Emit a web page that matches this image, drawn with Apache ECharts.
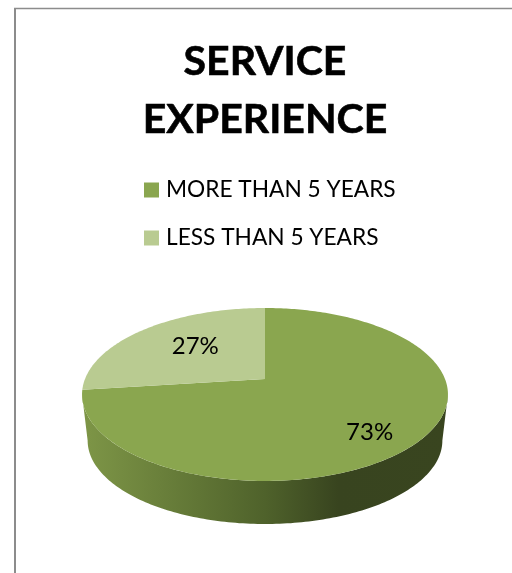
<!DOCTYPE html>
<html>
<head>
<meta charset="utf-8">
<style>html,body{margin:0;padding:0;background:#fff}#chart{width:512px;height:573px}</style>
<script src="https://cdn.jsdelivr.net/npm/echarts@6/dist/echarts.min.js"></script>
</head>
<body>
<div id="chart"></div>
<script>
const titleLines = ['SERVICE', 'EXPERIENCE'];
const categories = ['MORE THAN 5 YEARS', 'LESS THAN 5 YEARS'];
const shares = [73, 27];
const sliceColors = ['#8aa64f', '#b9cb91'];

// Tilted disc: a circle seen in perspective, so its centre sits above the ellipse's middle.
const disc = { cx: 265, cy: 379, rx: 180, ry: 83.7, tilt: 0.179 };
const base = { cx: 265, cy: 425.6, rx: 174.5, ry: 80.8, tilt: 0.179 };
const labelPlace = [
  { radius: 0.71, dx: 0, dy: 10 },
  { radius: 0.55, dx: 0, dy: -4 }
];

function project(d, turn, radius) {
  const a = turn * 2 * Math.PI;
  const u = Math.sin(a) * radius;
  const v = -Math.cos(a) * radius;
  const w = 1 - d.tilt * v;
  return [d.cx + d.rx * u / w, d.cy + d.ry * v / w];
}

function arc(d, from, to) {
  const pts = [];
  const n = Math.max(2, Math.ceil(Math.abs(to - from) * 360));
  for (let i = 0; i <= n; i++) pts.push(project(d, from + (to - from) * i / n, 1));
  return pts;
}

const total = shares.reduce((s, v) => s + v, 0);
const starts = shares.map((_, i) => shares.slice(0, i).reduce((s, v) => s + v, 0) / total);

function renderSlice(i) {
  return function () {
    const from = starts[i];
    const to = from + shares[i] / total;
    const mid = (from + to) / 2;
    const at = project(disc, mid, labelPlace[i].radius);
    return {
      type: 'group',
      children: [
        {
          type: 'polygon',
          shape: { points: [[disc.cx, disc.cy]].concat(arc(disc, from, to)) },
          style: { fill: sliceColors[i] }
        },
        {
          type: 'text',
          z2: 10,
          style: {
            x: at[0] + labelPlace[i].dx,
            y: at[1] + labelPlace[i].dy,
            text: shares[i] + '%',
            fill: '#000',
            font: '24px Lato',
            align: 'center',
            verticalAlign: 'middle'
          }
        }
      ]
    };
  };
}

// Rim visible below the disc, from the right-hand widest point round to the left-hand one.
function renderWall() {
  const edge = Math.acos(-disc.tilt) / (2 * Math.PI);
  const from = edge, to = 1 - edge;
  const top = arc(disc, from, to);
  const bottom = arc(base, from, to).reverse();
  return {
    type: 'polygon',
    shape: { points: top.concat(bottom) },
    style: {
      fill: new echarts.graphic.LinearGradient(82, 0, 448, 0, [
        { offset: 0, color: '#7e9647' },
        { offset: 0.32, color: '#607535' },
        { offset: 0.5, color: '#4f622b' },
        { offset: 0.7, color: '#38441f' },
        { offset: 1, color: '#39451f' }
      ], true)
    }
  };
}

const chart = echarts.init(document.getElementById('chart'), null, { renderer: 'canvas' });
chart.setOption({
  animation: false,
  backgroundColor: '#fff',
  title: {
    text: titleLines.join('\n'),
    left: 260,
    top: 28,
    textAlign: 'center',
    textStyle: { fontFamily: 'Lato', fontWeight: 'bold', fontSize: 41, lineHeight: 58, color: '#000', textBorderColor: '#000', textBorderWidth: 0.6 }
  },
  legend: {
    orient: 'vertical',
    left: 144,
    top: 171,
    padding: 0,
    icon: 'rect',
    itemWidth: 15,
    itemHeight: 15,
    itemGap: 10,
    data: categories,
    textStyle: { fontFamily: 'Lato', fontSize: 22.7, lineHeight: 38, color: '#000', padding: [0, 0, 0, 2] }
  },
  graphic: [
    { type: 'line', shape: { x1: 14, y1: 8.5, x2: 512, y2: 8.5 }, style: { stroke: '#8c8c8c', lineWidth: 1.5 } },
    { type: 'line', shape: { x1: 15, y1: 8, x2: 15, y2: 573 }, style: { stroke: '#8c8c8c', lineWidth: 2 } }
  ],
  series: [
    { type: 'custom', name: 'rim', coordinateSystem: 'none', silent: true, data: [[0]], renderItem: renderWall },
    { type: 'custom', name: categories[0], coordinateSystem: 'none', silent: true, itemStyle: { color: sliceColors[0] }, data: [[shares[0]]], renderItem: renderSlice(0) },
    { type: 'custom', name: categories[1], coordinateSystem: 'none', silent: true, itemStyle: { color: sliceColors[1] }, data: [[shares[1]]], renderItem: renderSlice(1) }
  ]
});
</script>
</body>
</html>
